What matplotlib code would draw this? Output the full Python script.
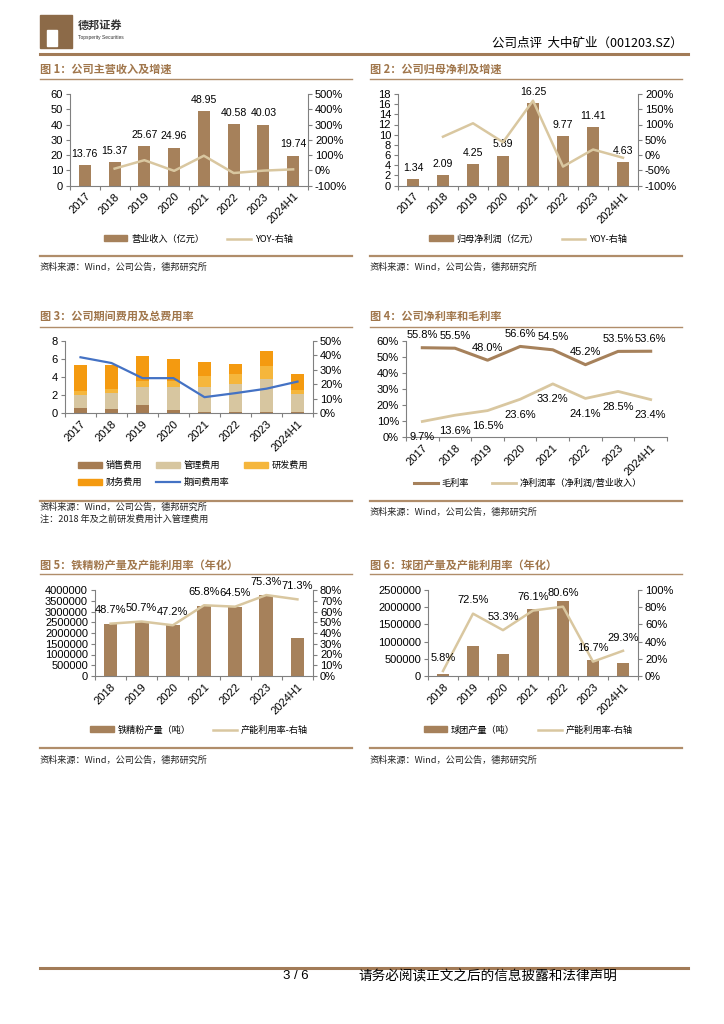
import matplotlib.pyplot as plt
import numpy as np
from matplotlib.lines import Line2D
from matplotlib.patches import Patch, Rectangle

plt.rcParams['font.family'] = ['Liberation Sans', 'Noto Sans CJK SC']
plt.rcParams['axes.unicode_minus'] = False

W, H = 724, 1024

# ---- data ----
years8 = ['2017', '2018', '2019', '2020', '2021', '2022', '2023', '2024H1']
years7 = ['2018', '2019', '2020', '2021', '2022', '2023', '2024H1']

revenue = [13.76, 15.37, 25.67, 24.96, 48.95, 40.58, 40.03, 19.74]
revenue_yoy = [np.nan, 11.7, 67.0, -2.8, 96.1, -17.1, -1.4, 7.0]

net_profit = [1.34, 2.09, 4.25, 5.89, 16.25, 9.77, 11.41, 4.63]
net_profit_yoy = [np.nan, 60.0, 104.0, 42.0, 178.0, -38.0, 18.0, -9.0]

sales_exp = [0.60, 0.50, 0.90, 0.38, 0.15, 0.10, 0.10, 0.15]
admin_exp = [1.35, 1.68, 2.03, 2.55, 2.71, 3.10, 3.66, 1.95]
rd_exp = [0.50, 0.49, 0.64, 0.67, 1.20, 1.16, 1.50, 0.46]
fin_exp = [2.85, 2.63, 2.71, 2.45, 1.62, 1.13, 1.62, 1.73]
exp_ratio = [38.7, 34.7, 24.2, 24.2, 11.0, 13.8, 16.9, 21.8]

gross_margin = [55.8, 55.5, 48.0, 56.6, 54.5, 45.2, 53.5, 53.6]
net_margin = [9.7, 13.6, 16.5, 23.6, 33.2, 24.1, 28.5, 23.4]

iron_output = [2430000, 2530000, 2370000, 3270000, 3220000, 3770000, 1780000]
iron_util = [48.7, 50.7, 47.2, 65.8, 64.5, 75.3, 71.3]

pellet_output = [58000, 872000, 640000, 1960000, 2190000, 465000, 388000]
pellet_util = [5.8, 72.5, 53.3, 76.1, 80.6, 16.7, 29.3]

# ---- style ----
BROWN = '#A6815B'
TAN = '#D9C7A0'
TITLE_C = '#A0764B'
RULE_C = '#B08D6A'
SPINE_C = '#808080'
CJK = ['Noto Sans CJK SC', 'DejaVu Sans']
FS = 6.6
TICK_FS = 8

fig = plt.figure(figsize=(W / 100, H / 100), dpi=100)


def rect(x0, y0, x1, y1):
    return [x0 / W, 1 - y1 / H, (x1 - x0) / W, (y1 - y0) / H]


def ftext(x, y, s, **kw):
    fig.text(x / W, 1 - y / H, s, **kw)


def hline(x0, x1, y, color=RULE_C, lw=1.2):
    fig.add_artist(Line2D([x0 / W, x1 / W], [1 - y / H, 1 - y / H],
                          transform=fig.transFigure, color=color, lw=lw))


def style(ax, n, labels, twin=None):
    for s in ['top', 'right']:
        ax.spines[s].set_visible(False)
    for s in ['left', 'bottom']:
        ax.spines[s].set_color(SPINE_C)
        ax.spines[s].set_linewidth(0.8)
    ax.set_xlim(-0.5, n - 0.5)
    ax.set_xticks(range(n))
    ax.set_xticklabels(labels, rotation=45, ha='right', rotation_mode='anchor', fontsize=TICK_FS)
    ax.set_xticks(np.arange(n + 1) - 0.5, minor=True)
    ax.tick_params(axis='x', which='major', length=0, pad=4)
    ax.tick_params(axis='x', which='minor', length=3, color=SPINE_C, width=0.8)
    ax.tick_params(axis='y', length=3, color=SPINE_C, width=0.8, labelsize=TICK_FS, pad=2)
    if twin is not None:
        for s in ['top', 'left', 'bottom']:
            twin.spines[s].set_visible(False)
        twin.spines['right'].set_color(SPINE_C)
        twin.spines['right'].set_linewidth(0.8)
        twin.tick_params(axis='y', length=3, color=SPINE_C, width=0.8, labelsize=TICK_FS, pad=2)


def pct_fmt(ax):
    ax.yaxis.set_major_formatter(plt.FuncFormatter(lambda v, p: f'{v:.0f}%'))


def panel_frame(x0, x1, title, y_title, y_rule, y_bottom, sources, y_src):
    ftext(x0, y_title, title, fontsize=8, fontweight='bold', color=TITLE_C, family=CJK, va='center')
    hline(x0, x1, y_rule, lw=1.0)
    hline(x0, x1, y_bottom, lw=1.6)
    for i, s in enumerate(sources):
        ftext(x0, y_src + i * 12, s, fontsize=FS, family=CJK, va='center', color='#222222')


def legend(ax, handles, labels, cx, cy, ncol, colsp=2.5):
    ax.legend(handles, labels, loc='center', bbox_to_anchor=(cx / W, 1 - cy / H),
              bbox_transform=fig.transFigure, ncol=ncol, frameon=False,
              prop={'family': CJK, 'size': FS}, handlelength=2.6, handleheight=0.6,
              columnspacing=colsp, handletextpad=0.4, labelspacing=0.9)


SRC = '资料来源：Wind，公司公告，德邦研究所'

# ---- header ----
fig.add_artist(Rectangle((40 / W, 1 - 48 / H), 32 / W, 33 / H, transform=fig.transFigure,
                         color='#8C6A48'))
fig.add_artist(Rectangle((47 / W, 1 - 46 / H), 10 / W, 16 / H, transform=fig.transFigure,
                         color='white'))
ftext(78, 25, '德邦证券', fontsize=8, fontweight='bold', family=CJK, color='#333333', va='center')
ftext(78, 37, 'Topsperity Securities', fontsize=3.5, color='#333333', va='center')
ftext(683, 43, '公司点评  大中矿业（001203.SZ）', fontsize=9, family=CJK, ha='right', va='center')
hline(40, 688, 54, color='#A27B57', lw=2.2)

# ---- footer ----
hline(40, 688, 968, color='#A27B57', lw=2.2)
ftext(296, 976, '3 / 6', fontsize=9.5, ha='center', va='center')
ftext(358, 976, '请务必阅读正文之后的信息披露和法律声明', fontsize=9.8, family=CJK, va='center')

x = np.arange(8)
x7 = np.arange(7)

# ---- Figure 1 ----
panel_frame(40, 352, '图 1：公司主营收入及增速', 69, 79, 256, [SRC], 267)
ax = fig.add_axes(rect(70, 94, 308, 185.7))
ax2 = ax.twinx()
ax.bar(x, revenue, width=0.4, color=BROWN)
ax2.plot(x, revenue_yoy, color=TAN, lw=1.8)
ax.set_ylim(0, 60)
ax.set_yticks(range(0, 61, 10))
ax2.set_ylim(-100, 500)
ax2.set_yticks(range(-100, 501, 100))
pct_fmt(ax2)
style(ax, 8, years8, ax2)
for i, v in enumerate(revenue):
    ax.annotate(f'{v:.2f}', (i, v), xytext=(0, 8), textcoords='offset points',
                ha='center', va='center', fontsize=FS + 1)
legend(ax, [Patch(color=BROWN), Line2D([], [], color=TAN, lw=1.8)],
       ['营业收入（亿元）', 'YOY-右轴'], 198, 239, 2)

# ---- Figure 2 ----
panel_frame(370, 682, '图 2：公司归母净利及增速', 69, 79, 256, [SRC], 267)
ax = fig.add_axes(rect(398, 94, 638, 185.5))
ax2 = ax.twinx()
ax.bar(x, net_profit, width=0.4, color=BROWN)
ax.set_ylim(0, 18)
ax.set_yticks(range(0, 19, 2))
ax2.set_ylim(-100, 200)
ax2.set_yticks(range(-100, 201, 50))
pct_fmt(ax2)
style(ax, 8, years8, ax2)
for i, v in enumerate(net_profit):
    ax.annotate(f'{v:.2f}', (i, v), xytext=(0, 8), textcoords='offset points',
                ha='center', va='center', fontsize=FS + 1)
ax2.plot(x, net_profit_yoy, color=TAN, lw=1.8)
legend(ax, [Patch(color=BROWN), Line2D([], [], color=TAN, lw=1.8)],
       ['归母净利润（亿元）', 'YOY-右轴'], 528, 239, 2)

# ---- Figure 3 ----
panel_frame(40, 352, '图 3：公司期间费用及总费用率', 316, 327, 501,
            [SRC, '注：2018 年及之前研发费用计入管理费用'], 507)
ax = fig.add_axes(rect(65, 341, 313, 413))
ax2 = ax.twinx()
c_sales, c_admin, c_rd, c_fin = '#A67C52', '#D7C6A0', '#F5B63C', '#F49A10'
b = np.zeros(8)
for vals, c in [(sales_exp, c_sales), (admin_exp, c_admin), (rd_exp, c_rd), (fin_exp, c_fin)]:
    ax.bar(x, vals, bottom=b, width=0.42, color=c)
    b = b + np.array(vals)
ax2.plot(x, exp_ratio, color='#4472C4', lw=1.6)
ax.set_ylim(0, 8)
ax.set_yticks(range(0, 9, 2))
ax2.set_ylim(0, 50)
ax2.set_yticks(range(0, 51, 10))
pct_fmt(ax2)
style(ax, 8, years8, ax2)
# column-major order so rows read: 销售 管理 研发 / 财务 期间费用率
legend(ax, [Patch(color=c_sales), Patch(color=c_fin), Patch(color=c_admin),
            Line2D([], [], color='#4472C4', lw=1.6), Patch(color=c_rd)],
       ['销售费用', '财务费用', '管理费用', '期间费用率', '研发费用'], 193, 474, 3, colsp=1.6)

# ---- Figure 4 ----
panel_frame(370, 682, '图 4：公司净利率和毛利率', 316, 327, 501, [SRC], 512)
ax = fig.add_axes(rect(406, 341, 667, 437))
ax.plot(x, gross_margin, color=BROWN, lw=2.2)
ax.plot(x, net_margin, color=TAN, lw=2.0)
ax.set_ylim(0, 60)
ax.set_yticks(range(0, 61, 10))
pct_fmt(ax)
style(ax, 8, years8)
for i, v in enumerate(gross_margin):
    ax.annotate(f'{v:.1f}%', (i, v), xytext=(0, 9), textcoords='offset points',
                ha='center', va='center', fontsize=FS + 1.4)
for i, v in enumerate(net_margin):
    ax.annotate(f'{v:.1f}%', (i, v), xytext=(0, -11), textcoords='offset points',
                ha='center', va='center', fontsize=FS + 1.4)
legend(ax, [Line2D([], [], color=BROWN, lw=2.2), Line2D([], [], color=TAN, lw=2.0)],
       ['毛利率', '净利润率（净利润/营业收入）'], 528, 483, 2)

# ---- Figure 5 ----
panel_frame(40, 352, '图 5：铁精粉产量及产能利用率（年化）', 565, 574, 748, [SRC], 760)
ax = fig.add_axes(rect(95, 590, 313, 676))
ax2 = ax.twinx()
ax.bar(x7, iron_output, width=0.44, color=BROWN)
ax2.plot(x7, iron_util, color=TAN, lw=1.8)
ax.set_ylim(0, 4000000)
ax.set_yticks(range(0, 4000001, 500000))
ax.yaxis.set_major_formatter(plt.FuncFormatter(lambda v, p: f'{v:.0f}'))
ax2.set_ylim(0, 80)
ax2.set_yticks(range(0, 81, 10))
pct_fmt(ax2)
style(ax, 7, years7, ax2)
for i, v in enumerate(iron_util):
    ax2.annotate(f'{v:.1f}%', (i, v), xytext=(0, 9.5), textcoords='offset points',
                 ha='center', va='center', fontsize=FS + 1.4)
legend(ax, [Patch(color=BROWN), Line2D([], [], color=TAN, lw=1.8)],
       ['铁精粉产量（吨）', '产能利用率-右轴'], 199, 730, 2)

# ---- Figure 6 ----
panel_frame(370, 682, '图 6：球团产量及产能利用率（年化）', 565, 574, 748, [SRC], 760)
ax = fig.add_axes(rect(428, 590, 638, 676))
ax2 = ax.twinx()
ax.bar(x7, pellet_output, width=0.41, color=BROWN)
ax2.plot(x7, pellet_util, color=TAN, lw=1.8)
ax.set_ylim(0, 2500000)
ax.set_yticks(range(0, 2500001, 500000))
ax.yaxis.set_major_formatter(plt.FuncFormatter(lambda v, p: f'{v:.0f}'))
ax2.set_ylim(0, 100)
ax2.set_yticks(range(0, 101, 20))
pct_fmt(ax2)
style(ax, 7, years7, ax2)
for i, v in enumerate(pellet_util):
    ax2.annotate(f'{v:.1f}%', (i, v), xytext=(0, 9.5), textcoords='offset points',
                 ha='center', va='center', fontsize=FS + 1.4)
legend(ax, [Patch(color=BROWN), Line2D([], [], color=TAN, lw=1.8)],
       ['球团产量（吨）', '产能利用率-右轴'], 528, 730, 2)

fig.savefig('out.png', dpi=100)
